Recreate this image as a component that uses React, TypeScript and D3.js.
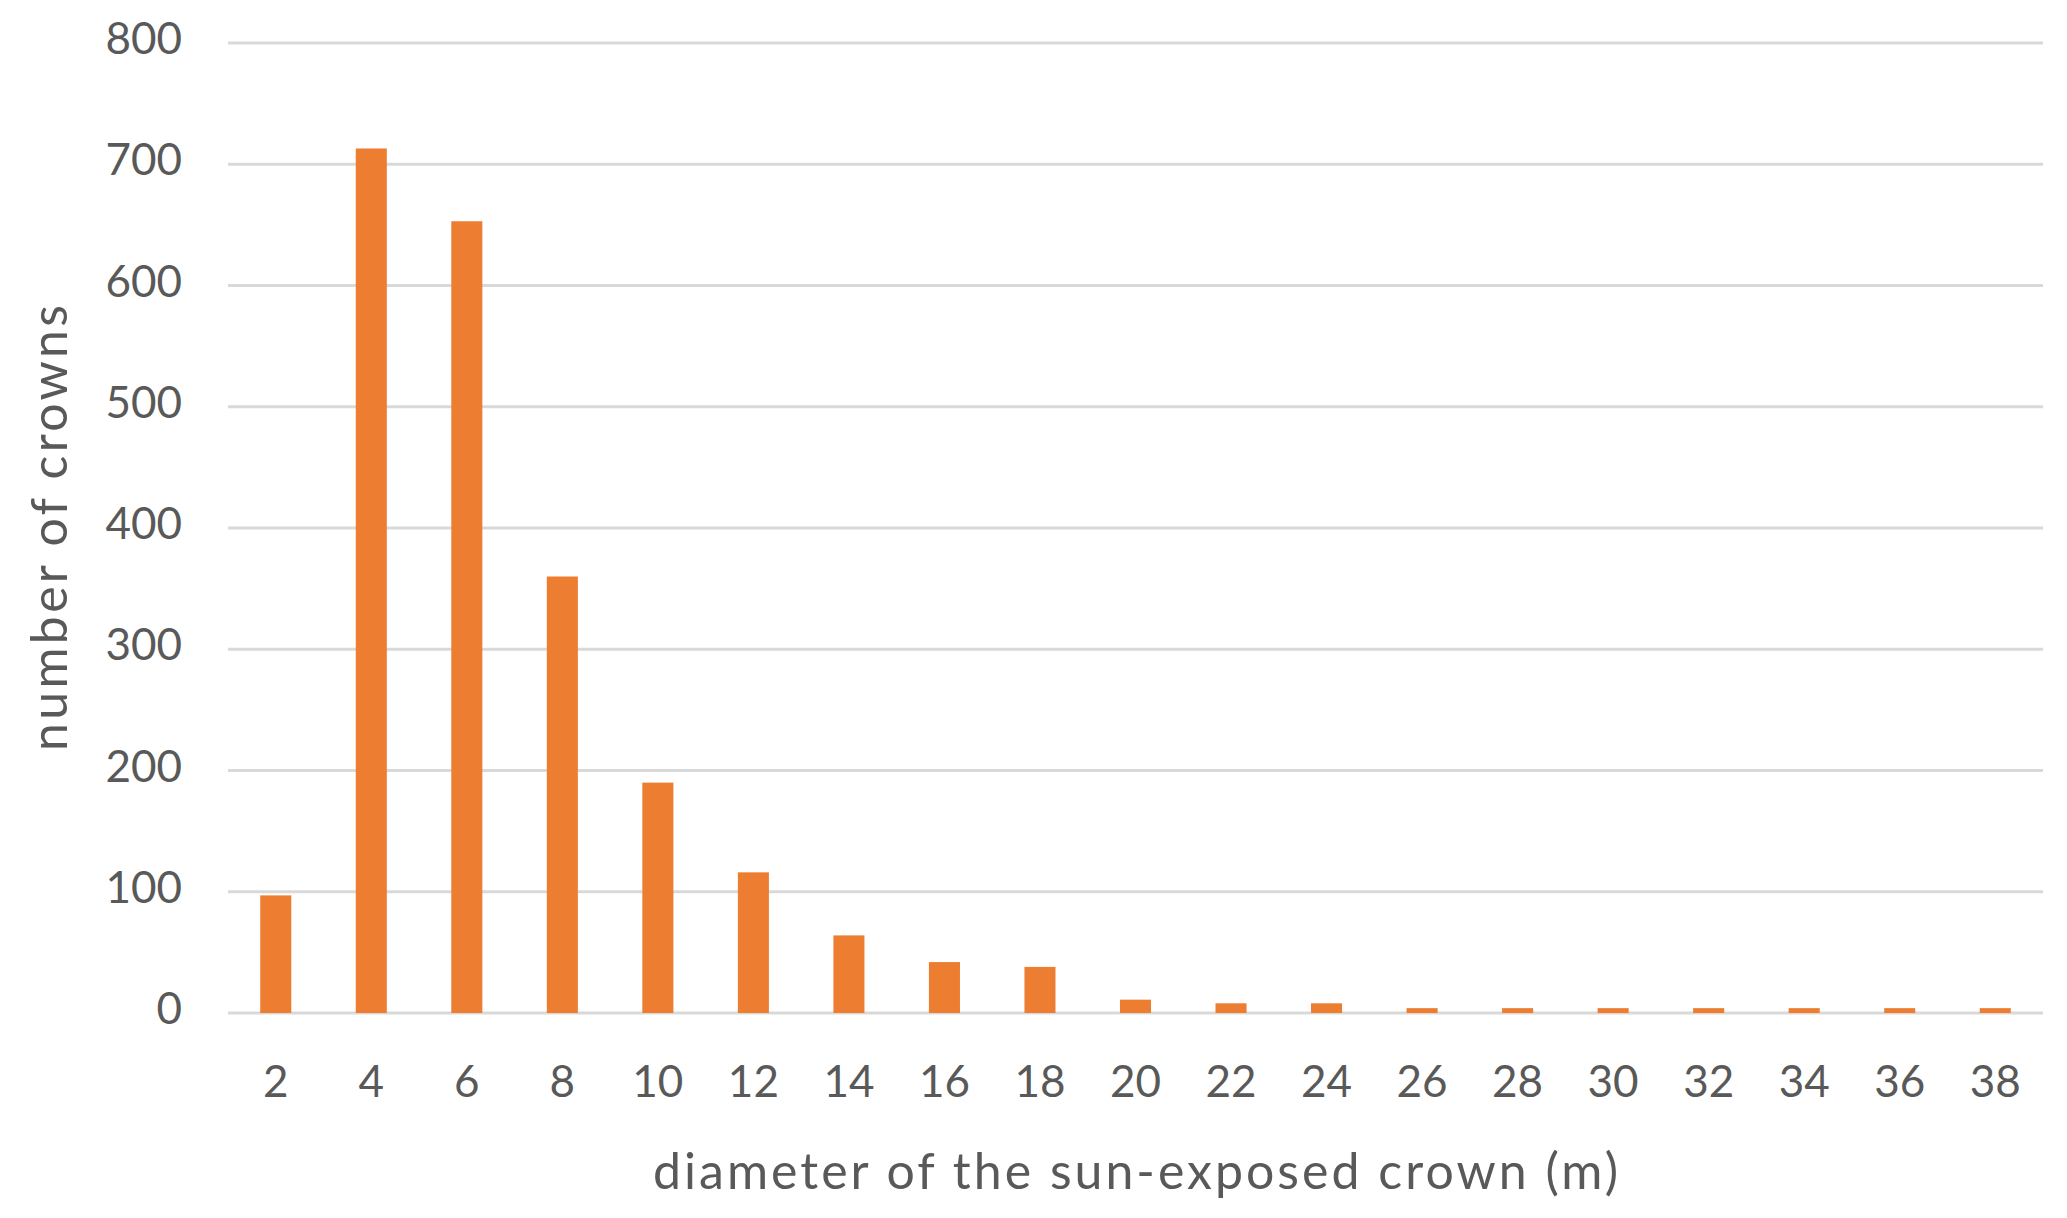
import React, { useRef, useEffect } from "react";
import * as d3 from "d3";

const diameters = ["2", "4", "6", "8", "10", "12", "14", "16", "18", "20", "22", "24", "26", "28", "30", "32", "34", "36", "38"];
const crowns = [97, 713, 653, 360, 190, 116, 64, 42, 38, 11, 8, 8, 4, 4, 4, 4, 4, 4, 4];
const yTicks = [0, 100, 200, 300, 400, 500, 600, 700, 800];

const W = 2067;
const H = 1218;

const CrownChart = () => {
  const ref = useRef<SVGSVGElement>(null);

  useEffect(() => {
    const svg = d3.select(ref.current);
    svg.selectAll("*").remove();

    const left = 228;
    const right = 2043;
    const top = 43;
    const bottom = 1013;

    const x = d3.scaleBand().domain(diameters).range([left, right]).paddingInner(0.675).paddingOuter(0.3375);
    const y = d3.scaleLinear().domain([0, 800]).range([bottom, top]);

    const font = "Lato, 'Open Sans', sans-serif";
    const textColor = "#595959";

    // gridlines
    svg
      .append("g")
      .selectAll("line")
      .data(yTicks)
      .enter()
      .append("line")
      .attr("x1", left)
      .attr("x2", right)
      .attr("y1", d => y(d))
      .attr("y2", d => y(d))
      .attr("stroke", "#d9d9d9")
      .attr("stroke-width", 3);

    // bars
    svg
      .append("g")
      .selectAll("rect")
      .data(crowns)
      .enter()
      .append("rect")
      .attr("x", (d, i) => x(diameters[i]) as number)
      .attr("y", d => y(d))
      .attr("width", x.bandwidth())
      .attr("height", d => bottom - y(d))
      .attr("fill", "#ED7D31");

    // y tick labels
    svg
      .append("g")
      .selectAll("text")
      .data(yTicks)
      .enter()
      .append("text")
      .attr("x", 182)
      .attr("y", d => y(d) - 6)
      .attr("text-anchor", "end")
      .attr("dominant-baseline", "central")
      .attr("font-family", font)
      .attr("font-size", 44)
      .attr("fill", textColor)
      .text(d => d);

    // x tick labels
    svg
      .append("g")
      .selectAll("text")
      .data(diameters)
      .enter()
      .append("text")
      .attr("x", d => (x(d) as number) + x.bandwidth() / 2)
      .attr("y", 1080)
      .attr("text-anchor", "middle")
      .attr("dominant-baseline", "central")
      .attr("font-family", font)
      .attr("font-size", 44)
      .attr("fill", textColor)
      .text(d => d);

    // axis titles
    svg
      .append("text")
      .attr("x", (left + right) / 2)
      .attr("y", 1170)
      .attr("text-anchor", "middle")
      .attr("dominant-baseline", "central")
      .attr("font-family", font)
      .attr("font-size", 50)
      .attr("textLength", 965)
      .attr("lengthAdjust", "spacing")
      .attr("fill", textColor)
      .text("diameter of the sun-exposed crown (m)");

    svg
      .append("text")
      .attr("transform", `translate(48,${(top + bottom) / 2}) rotate(-90)`)
      .attr("text-anchor", "middle")
      .attr("dominant-baseline", "central")
      .attr("font-family", font)
      .attr("font-size", 50)
      .attr("textLength", 446)
      .attr("lengthAdjust", "spacing")
      .attr("fill", textColor)
      .text("number of crowns");
  }, []);

  return <svg ref={ref} width={W} height={H} style={{ position: "absolute", left: 0, top: 0, background: "#fff" }} />;
};

export default function App() {
  return (
    <div>
      <CrownChart />
    </div>
  );
}
